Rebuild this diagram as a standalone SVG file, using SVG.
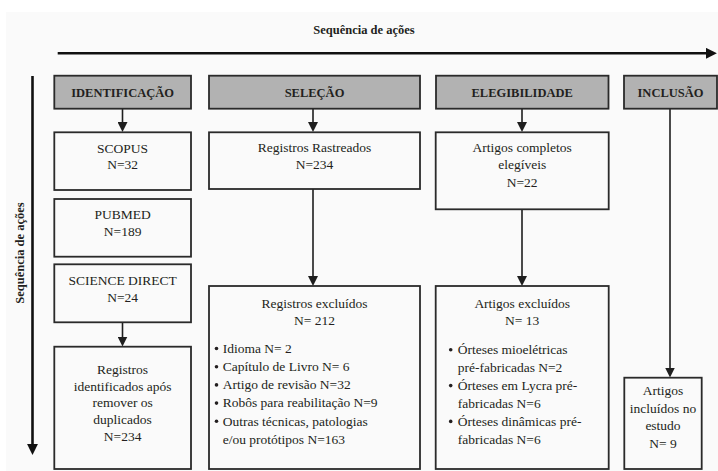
<svg xmlns="http://www.w3.org/2000/svg" width="718" height="471" viewBox="0 0 718 471" font-family="'Liberation Serif', 'DejaVu Serif', serif">
<defs>
<marker id="ah" viewBox="0 0 10 10" refX="1" refY="5" markerWidth="10" markerHeight="10" markerUnits="userSpaceOnUse" orient="auto">
<path d="M0,0 L10,5 L0,10 Z" fill="#1e1e1e"/>
</marker>
<marker id="ahb" viewBox="0 0 10 10" refX="1" refY="5" markerWidth="11" markerHeight="11" markerUnits="userSpaceOnUse" orient="auto">
<path d="M0,0 L10,5 L0,10 Z" fill="#111"/>
</marker>
</defs>
<style>
text{font-family:'Liberation Serif','DejaVu Serif',serif;fill:#231f20;}
.t{font-size:13.5px;text-anchor:middle;}
.l{font-size:13.5px;}
.h{font-size:12.5px;font-weight:bold;text-anchor:middle;}
.box{fill:#fafafa;stroke:#2a2a2a;stroke-width:1.8;}
.hdr{fill:#b2b2b2;stroke:#2a2a2a;stroke-width:1.8;}
.c{stroke:#1e1e1e;stroke-width:1.6;fill:none;marker-end:url(#ah);}
.thick{stroke:#111;stroke-width:2.6;fill:none;marker-end:url(#ahb);}
.dot{fill:#231f20;}
</style>
<rect x="0" y="0" width="718" height="471" fill="#ffffff"/>
<rect x="6" y="12" width="712" height="459" fill="#fafafa"/>

<g id="axes">
<text x="364" y="33.5" class="h">Sequência de ações</text>
<text transform="translate(24,253) rotate(-90)" class="h">Sequência de ações</text>
</g>

<g id="connectors">
<path class="thick" d="M57.7,53.3 H707"/>
<path class="thick" d="M32.5,76 V445"/>
<path class="c" d="M122.5,108.7 V123"/>
<path class="c" d="M313,108.7 V123"/>
<path class="c" d="M522,108.7 V123"/>
<path class="c" d="M670,108.7 V368.5"/>
<path class="c" d="M122.5,322.3 V337.5"/>
<path class="c" d="M313,189 V277"/>
<path class="c" d="M522,209.3 V277"/>
</g>

<g id="hdr-identificacao">
<rect class="hdr" x="54.3" y="75.7" width="136.7" height="33"/>
<text class="h" x="122.6" y="96.5">IDENTIFICAÇÃO</text>
</g>
<g id="hdr-selecao">
<rect class="hdr" x="209" y="75.7" width="211" height="33"/>
<text class="h" x="314.5" y="96.5">SELEÇÃO</text>
</g>
<g id="hdr-elegibilidade">
<rect class="hdr" x="436" y="75.7" width="172.5" height="33"/>
<text class="h" x="522.2" y="96.5">ELEGIBILIDADE</text>
</g>
<g id="hdr-inclusao">
<rect class="hdr" x="624" y="75.7" width="93" height="33"/>
<text class="h" x="670.5" y="96.5">INCLUSÃO</text>
</g>

<g id="scopus">
<rect class="box" x="54.3" y="132.3" width="136.7" height="57.7"/>
<text class="t" x="122.6" y="152.7">SCOPUS</text>
<text class="t" x="122.6" y="169.3">N=32</text>
</g>
<g id="pubmed">
<rect class="box" x="54.3" y="199" width="136.7" height="57.7"/>
<text class="t" x="122.6" y="219.3">PUBMED</text>
<text class="t" x="122.6" y="236">N=189</text>
</g>
<g id="sciencedirect">
<rect class="box" x="54.3" y="264.3" width="136.7" height="58"/>
<text class="t" x="122.6" y="285">SCIENCE DIRECT</text>
<text class="t" x="122.6" y="301.7">N=24</text>
</g>
<g id="identificados">
<rect class="box" x="54.3" y="346.7" width="136.7" height="122.3"/>
<text class="t" x="122.6" y="374">Registros</text>
<text class="t" x="122.6" y="390.7">identificados após</text>
<text class="t" x="122.6" y="407.3">remover os</text>
<text class="t" x="122.6" y="424">duplicados</text>
<text class="t" x="122.6" y="440.7">N=234</text>
</g>

<g id="rastreados">
<rect class="box" x="209" y="132.3" width="211" height="56.7"/>
<text class="t" x="314.5" y="152.3">Registros Rastreados</text>
<text class="t" x="314.5" y="169">N=234</text>
</g>
<g id="reg-excluidos">
<rect class="box" x="209" y="286" width="211" height="183"/>
<text class="t" x="314.5" y="308.3">Registros excluídos</text>
<text class="t" x="314.5" y="324.5">N= 212</text>
<circle class="dot" cx="216.5" cy="348.5" r="1.8"/>
<text class="l" x="222.7" y="352.7">Idioma N= 2</text>
<circle class="dot" cx="216.5" cy="366.7" r="1.8"/>
<text class="l" x="222.7" y="370.9">Capítulo de Livro N= 6</text>
<circle class="dot" cx="216.5" cy="384.9" r="1.8"/>
<text class="l" x="222.7" y="389.1">Artigo de revisão N=32</text>
<circle class="dot" cx="216.5" cy="403.1" r="1.8"/>
<text class="l" x="222.7" y="407.3">Robôs para reabilitação N=9</text>
<circle class="dot" cx="216.5" cy="421.3" r="1.8"/>
<text class="l" x="222.7" y="425.5">Outras técnicas, patologias</text>
<text class="l" x="222.7" y="443.7">e/ou protótipos N=163</text>
</g>

<g id="completos">
<rect class="box" x="435.7" y="132.3" width="173" height="77"/>
<text class="t" x="522.2" y="152.3">Artigos completos</text>
<text class="t" x="522.2" y="169.3">elegíveis</text>
<text class="t" x="522.2" y="186.7">N=22</text>
</g>
<g id="art-excluidos">
<rect class="box" x="435.7" y="286" width="173" height="183"/>
<text class="t" x="522.2" y="308.3">Artigos excluídos</text>
<text class="t" x="522.2" y="325">N= 13</text>
<circle class="dot" cx="450.7" cy="349.8" r="1.8"/>
<text class="l" x="457.7" y="354">Órteses mioelétricas</text>
<text class="l" x="457.7" y="371.9">pré-fabricadas N=2</text>
<circle class="dot" cx="450.7" cy="385.6" r="1.8"/>
<text class="l" x="457.7" y="389.8">Órteses em Lycra pré-</text>
<text class="l" x="457.7" y="407.7">fabricadas N=6</text>
<circle class="dot" cx="450.7" cy="421.4" r="1.8"/>
<text class="l" x="457.7" y="425.6">Órteses dinâmicas pré-</text>
<text class="l" x="457.7" y="443.5">fabricadas N=6</text>
</g>

<g id="incluidos">
<rect class="box" x="624.3" y="377.7" width="77.4" height="91.3"/>
<text class="t" x="663" y="395">Artigos</text>
<text class="t" x="663" y="412.7">incluídos no</text>
<text class="t" x="663" y="430">estudo</text>
<text class="t" x="663" y="447.7">N= 9</text>
</g>
</svg>
